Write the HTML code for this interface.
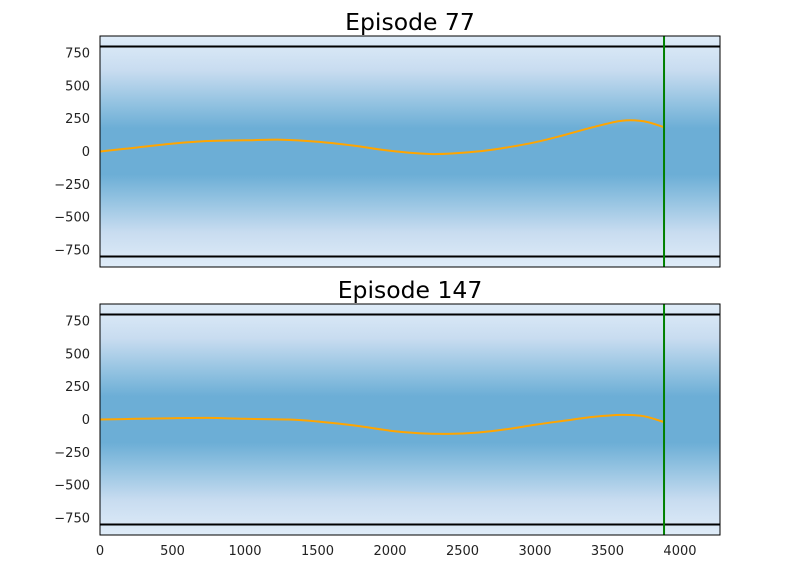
<!DOCTYPE html>
<html><head><meta charset="utf-8"><style>
body{margin:0;background:#fff;font-family:"Liberation Sans","DejaVu Sans",sans-serif}
</style></head><body>
<svg id="chart" width="800" height="568" xmlns="http://www.w3.org/2000/svg" font-family="DejaVu Sans, Liberation Sans, sans-serif">
<defs>
<linearGradient id="bg" x1="0" y1="0" x2="0" y2="1">
<stop offset="0" stop-color="#dfecf8"/><stop offset="0.15" stop-color="#c8dcf0"/>
<stop offset="0.3" stop-color="#90c1e0"/><stop offset="0.4" stop-color="#6caed6"/>
<stop offset="0.6" stop-color="#6caed6"/><stop offset="0.7" stop-color="#90c1e0"/>
<stop offset="0.85" stop-color="#c8dcf0"/><stop offset="1" stop-color="#dfecf8"/>
</linearGradient>
</defs>
</svg>
<script>
const titles=["Episode 77","Episode 147"];
const xTicks=[0,500,1000,1500,2000,2500,3000,3500,4000];
const yTicks=[750,500,250,0,-250,-500,-750];
const boundary=800;
const endX=3890;
const ep77X=[0,250,500,750,1000,1250,1500,1750,2000,2300,2600,2800,3000,3200,3400,3600,3750,3890];
const ep77Y=[0,30,60,80,85,90,75,45,5,-20,0,30,70,125,185,235,230,185];
const ep147X=[0,250,500,750,1000,1300,1500,1750,2000,2200,2400,2600,2800,3000,3200,3400,3600,3750,3890];
const ep147Y=[0,5,10,12,5,0,-15,-45,-85,-105,-110,-100,-75,-40,-10,20,35,25,-20];
const series=[[ep77X,ep77Y],[ep147X,ep147Y]];
const svg=document.getElementById('chart');const NS="http://www.w3.org/2000/svg";
function mk(t,a,p){const e=document.createElementNS(NS,t);for(const k in a)e.setAttribute(k,a[k]);(p||svg).appendChild(e);return e;}
const L=100,R=720,xmax=4276,ymax=880,tops=[36,304],H=231;
const sx=v=>L+v/xmax*(R-L);
function smooth(P){let d='M'+P[0][0].toFixed(1)+','+P[0][1].toFixed(1);
 for(let i=0;i<P.length-1;i++){const p0=P[Math.max(0,i-1)],p1=P[i],p2=P[i+1],p3=P[Math.min(P.length-1,i+2)];
  const c1=[p1[0]+(p2[0]-p0[0])/6,p1[1]+(p2[1]-p0[1])/6],c2=[p2[0]-(p3[0]-p1[0])/6,p2[1]-(p3[1]-p1[1])/6];
  d+=` C${c1[0].toFixed(1)},${c1[1].toFixed(1)} ${c2[0].toFixed(1)},${c2[1].toFixed(1)} ${p2[0].toFixed(1)},${p2[1].toFixed(1)}`;}
 return d;}
tops.forEach((T,i)=>{
 const sy=v=>T+H/2-v/ymax*(H/2);
 const g=mk('g',{});
 
 
 const bg=mk('rect',{x:L,y:T,width:R-L,height:H,fill:'url(#bg)'},g);
 
 
 const t=mk('text',{x:(L+R)/2,y:T-6,'text-anchor':'middle','font-size':23.5,fill:'#000'},g);
 t.textContent=titles[i];
 
 
 [boundary,-boundary].forEach(b=>{
  const l=mk('line',{x1:L,x2:R,y1:sy(b),y2:sy(b),stroke:'#000','stroke-width':2},g);
  
  
 });
 const [xs,ys]=series[i];
 const P=xs.map((x,j)=>[sx(x),sy(ys[j])]);
 const pl=mk('path',{d:smooth(P),fill:'none',stroke:'#ffa500','stroke-width':2},g);
 
 
 const gl=mk('line',{x1:sx(endX),x2:sx(endX),y1:T,y2:T+H,stroke:'#008000','stroke-width':2},g);
 
 
 const fr=mk('rect',{x:L,y:T,width:R-L,height:H,fill:'none',stroke:'#000','stroke-width':1},g);
 
 
 yTicks.forEach(v=>{
  const tx=mk('text',{x:L-10,y:sy(v)+4.5,'text-anchor':'end','font-size':13,fill:'#222'},g);
  tx.textContent=v<0?'\u2212'+(-v):String(v);
  
  
 });
 if(i===1){xTicks.forEach(v=>{
  const tx=mk('text',{x:sx(v),y:T+H+20,'text-anchor':'middle','font-size':13,fill:'#222'},g);
  tx.textContent=String(v);
  
  
 });}
});
</script>
</body></html>
